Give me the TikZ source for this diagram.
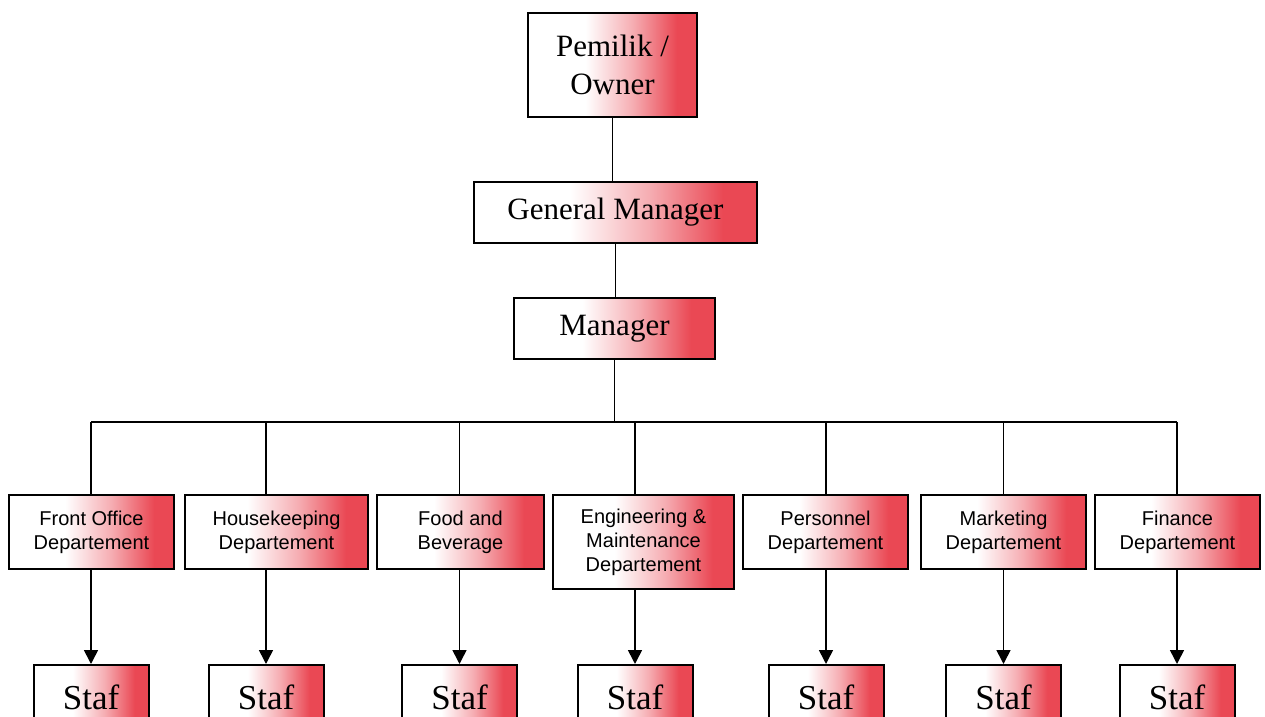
\documentclass[tikz,border=0pt]{standalone}
\usepackage{fontspec}
\setmainfont{Liberation Serif}
\newfontfamily\deptfont{Liberation Sans}
\usetikzlibrary{arrows.meta}

\definecolor{boxred}{RGB}{234,72,84}
\pgfdeclarehorizontalshading{whitered}{100bp}{color(0bp)=(white); color(42bp)=(white); color(56bp)=(boxred!45); color(69bp)=(boxred); color(100bp)=(boxred)}

\begin{document}
\begin{tikzpicture}[x=0.5pt,y=-0.5pt,line width=0.8pt,
    box/.style={draw,line width=1pt,shading=whitered,inner sep=0pt,align=center},
    topbox/.style={box,font=\fontsize{15.5}{19}\selectfont},
    deptbox/.style={box,minimum height=37pt,font=\deptfont\fontsize{10}{12}\selectfont},
    stafbox/.style={box,minimum width=57.5pt,minimum height=32pt,font=\fontsize{17.5}{20}\selectfont}]
    \useasboundingbox (0,0) rectangle (1265,717);
    \clip (0,0) rectangle (1265,717);

    % top of the chart
    \node[topbox,minimum width=84.5pt,minimum height=52pt] (owner) at (612.5,65) {Pemilik /\\Owner};
    \node[topbox,minimum width=141.5pt,minimum height=30.5pt] (gm) at (615.5,212.5) {General Manager};
    \node[topbox,minimum width=100.5pt,minimum height=30.5pt] (mgr) at (614.5,328.5) {Manager};
    \coordinate (bus) at (614,422);

    % departements
    \node[deptbox,minimum width=82.5pt] (d1) at (91.5,532) {Front Office\\Departement};
    \node[deptbox,minimum width=91.5pt] (d2) at (276.5,532) {Housekeeping\\Departement};
    \node[deptbox,minimum width=83.5pt] (d3) at (460.5,532) {Food and\\Beverage};
    \node[deptbox,minimum width=90.5pt,minimum height=47pt] (d4) at (643.5,542) {Engineering \&\\Maintenance\\Departement};
    \node[deptbox,minimum width=82.5pt] (d5) at (825.5,532) {Personnel\\Departement};
    \node[deptbox,minimum width=82.5pt] (d6) at (1003.5,532) {Marketing\\Departement};
    \node[deptbox,minimum width=82.5pt] (d7) at (1177.5,532) {Finance\\Departement};

    % staf
    \node[stafbox] (s1) at (91,697) {Staf};
    \node[stafbox] (s2) at (266,697) {Staf};
    \node[stafbox] (s3) at (459.5,697) {Staf};
    \node[stafbox] (s4) at (635,697) {Staf};
    \node[stafbox] (s5) at (826,697) {Staf};
    \node[stafbox] (s6) at (1003.5,697) {Staf};
    \node[stafbox] (s7) at (1177,697) {Staf};

    \draw (owner.south) -- (owner.south |- gm.north);
    \draw (gm.south) -- (gm.south |- mgr.north);
    \draw (mgr.south) -- (mgr.south |- bus);
    \draw (s1.north |- bus) -- (s7.north |- bus);
    \foreach \i in {1,...,7} {
      \draw (s\i.north |- bus) -- (d\i.north -| s\i.north);
      \draw[-{Triangle[width=7pt,length=7pt]}] (d\i.south -| s\i.north) -- (s\i.north);
    }
\end{tikzpicture}
\end{document}
